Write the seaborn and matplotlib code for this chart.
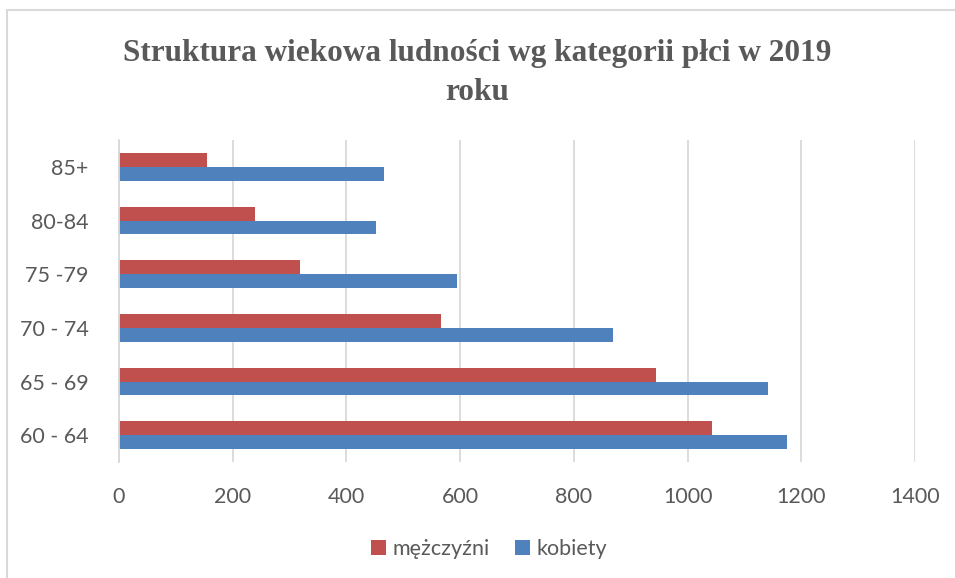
import pandas as pd
import seaborn as sns
import matplotlib.pyplot as plt
from matplotlib.patches import Rectangle

# Data
AGE_GROUPS = ["85+", "80-84", "75 -79", "70 - 74", "65 - 69", "60 - 64"]
MEN = [155, 239, 318, 566, 945, 1043]
WOMEN = [466, 452, 594, 869, 1141, 1175]
SERIES = ["mężczyźni", "kobiety"]
COLORS = ["#C0504D", "#4F81BD"]
X_TICKS = [0, 200, 400, 600, 800, 1000, 1200, 1400]

df = pd.DataFrame({
    "group": AGE_GROUPS * 2,
    "value": MEN + WOMEN,
    "series": [SERIES[0]] * len(MEN) + [SERIES[1]] * len(WOMEN),
})

sns.set_theme(style="white")
plt.rcParams["font.family"] = ["Lato", "DejaVu Sans"]
TEXT = "#595959"

fig = plt.figure(figsize=(9.55, 5.78), dpi=100)
ax = fig.add_axes([119 / 955, 1 - 462 / 578, (915 - 119) / 955, (462 - 140) / 578])

sns.barplot(data=df, x="value", y="group", hue="series", order=AGE_GROUPS,
            hue_order=SERIES, palette=COLORS, orient="h", width=0.52,
            saturation=1, ax=ax, edgecolor="none")

ax.set_xlim(0, 1400)
ax.set_xticks(X_TICKS)
ax.set_xticklabels([str(t) for t in X_TICKS])
ax.grid(axis="x", color="#D9D9D9", linewidth=1.3)
ax.set_axisbelow(True)
for s in ["top", "right", "bottom"]:
    ax.spines[s].set_visible(False)
ax.spines["left"].set_color("#D9D9D9")
ax.spines["left"].set_linewidth(1.3)
ax.tick_params(axis="both", length=0, labelsize=15.5, colors=TEXT)
ax.tick_params(axis="y", pad=22)
ax.tick_params(axis="x", pad=18)
ax.set_xlabel("")
ax.set_ylabel("")

ax.legend(loc="upper center", bbox_to_anchor=(0.465, -0.18), ncol=2, frameon=False,
          fontsize=15.5, handlelength=0.7, handleheight=0.7, handletextpad=0.3,
          columnspacing=1.2, labelcolor=TEXT)

fig.text(0.5, 1 - 73 / 578, "Struktura wiekowa ludności wg kategorii płci w 2019\nroku",
         ha="center", va="center", fontsize=22.5, fontweight="bold", color=TEXT,
         family=["Liberation Serif", "DejaVu Serif"], linespacing=1.5)

# chart border (only top and left edges visible in the crop)
fig.patches.append(Rectangle((7 / 955, -0.1), 1.2, 1 - 10 / 578 + 0.1,
                             transform=fig.transFigure, fill=False,
                             edgecolor="#D9D9D9", linewidth=1.5))

fig.savefig("out.png", dpi=100)
